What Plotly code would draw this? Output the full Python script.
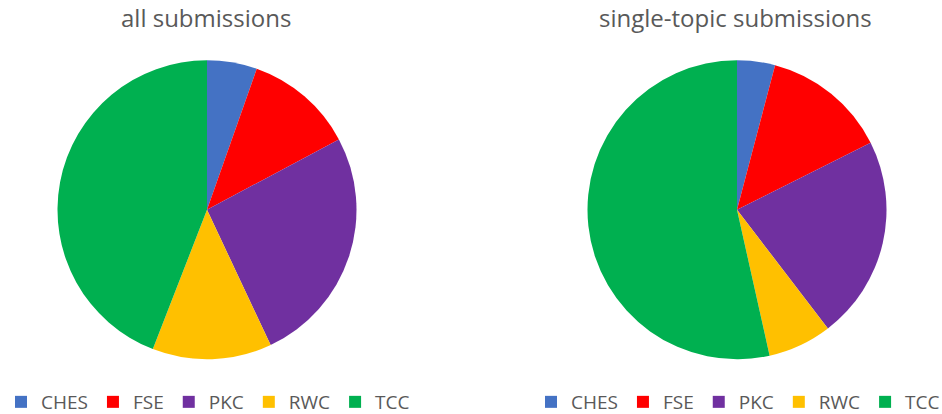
import plotly.graph_objects as go

# Share of submissions per conference (percent)
categories = ["CHES", "FSE", "PKC", "RWC", "TCC"]
all_submissions = [5.4, 11.8, 25.8, 12.9, 44.1]
single_topic = [4.1, 13.5, 22.0, 6.9, 53.5]
titles = ["all submissions", "single-topic submissions"]

colors = ["#4472C4", "#FF0000", "#7030A0", "#FFC000", "#00B050"]
W, H = 942, 414
FONT = "Open Sans"
GRAY = "#595959"


def px_x(v):
    return v / W


def px_y(v):
    return 1 - v / H


fig = go.Figure()

fig.add_trace(go.Pie(
    labels=categories, values=all_submissions, sort=False,
    direction="clockwise", rotation=0, textinfo="none", hoverinfo="label+percent",
    marker=dict(colors=colors, line=dict(width=0)),
    domain=dict(x=[px_x(57.5), px_x(356.5)], y=[px_y(359.5), px_y(60)]),
    legend="legend", legendgroup="all",
))
fig.add_trace(go.Pie(
    labels=categories, values=single_topic, sort=False,
    direction="clockwise", rotation=0, textinfo="none", hoverinfo="label+percent",
    marker=dict(colors=colors, line=dict(width=0)),
    domain=dict(x=[px_x(587.5), px_x(886.5)], y=[px_y(359.5), px_y(60)]),
    legend="legend2", legendgroup="single",
))

legend_style = dict(
    orientation="h", xanchor="center", yanchor="middle", traceorder="normal",
    font=dict(family=FONT, size=19, color=GRAY),
    bgcolor="rgba(0,0,0,0)", itemclick=False, itemdoubleclick=False,
    tracegroupgap=0,
)

fig.update_layout(
    width=W, height=H,
    margin=dict(l=0, r=0, t=0, b=0, autoexpand=False),
    paper_bgcolor="white", plot_bgcolor="white",
    legend=dict(x=px_x(208), y=px_y(402), **legend_style),
    legend2=dict(x=px_x(738), y=px_y(402), **legend_style),
    annotations=[
        dict(text=titles[0], x=px_x(206), y=px_y(18), xref="paper", yref="paper",
             showarrow=False, xanchor="center", yanchor="middle",
             font=dict(family=FONT, size=24, color=GRAY)),
        dict(text=titles[1], x=px_x(735), y=px_y(18), xref="paper", yref="paper",
             showarrow=False, xanchor="center", yanchor="middle",
             font=dict(family=FONT, size=24, color=GRAY)),
    ],
)

fig.write_html("out.html")
